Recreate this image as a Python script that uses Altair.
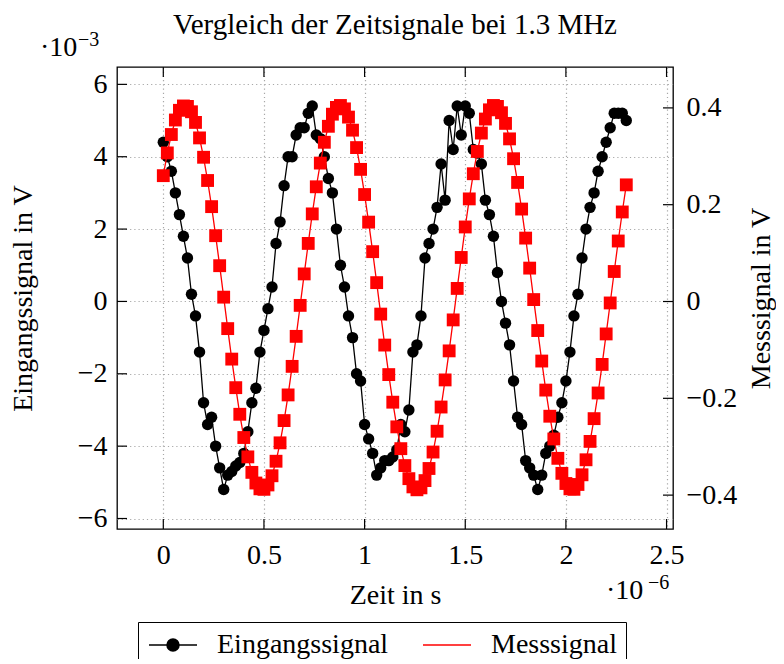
import altair as alt
import pandas as pd

# ---------------- data ----------------
time_us = [0.00, 0.02, 0.04, 0.06, 0.08, 0.10, 0.12, 0.14, 0.16, 0.18,
           0.20, 0.22, 0.24, 0.26, 0.28, 0.30, 0.32, 0.34, 0.36, 0.38,
           0.40, 0.42, 0.44, 0.46, 0.48, 0.50, 0.52, 0.54, 0.56, 0.58,
           0.60, 0.62, 0.64, 0.66, 0.68, 0.70, 0.72, 0.74, 0.76, 0.78,
           0.80, 0.82, 0.84, 0.86, 0.88, 0.90, 0.92, 0.94, 0.96, 0.98,
           1.00, 1.02, 1.04, 1.06, 1.08, 1.10, 1.12, 1.14, 1.16, 1.18,
           1.20, 1.22, 1.24, 1.26, 1.28, 1.30, 1.32, 1.34, 1.36, 1.38,
           1.40, 1.42, 1.44, 1.46, 1.48, 1.50, 1.52, 1.54, 1.56, 1.58,
           1.60, 1.62, 1.64, 1.66, 1.68, 1.70, 1.72, 1.74, 1.76, 1.78,
           1.80, 1.82, 1.84, 1.86, 1.88, 1.90, 1.92, 1.94, 1.96, 1.98,
           2.00, 2.02, 2.04, 2.06, 2.08, 2.10, 2.12, 2.14, 2.16, 2.18,
           2.20, 2.22, 2.24, 2.26, 2.28, 2.30]

eingang_mV = [4.4, 4.0, 3.6, 3.0, 2.4, 1.8, 1.2, 0.2, -0.4, -1.4,
              -2.8, -3.4, -3.2, -4.0, -4.6, -5.2, -4.8, -4.7, -4.55, -4.45,
              -4.2, -3.6, -2.8, -2.4, -1.4, -0.8, -0.2, 0.4, 1.6, 2.2,
              3.2, 4.0, 4.0, 4.6, 4.8, 4.8, 5.2, 5.4, 4.6, 4.5,
              4.0, 3.4, 3.0, 2.0, 1.0, 0.4, -0.4, -1.0, -2.0, -2.2,
              -3.4, -3.8, -4.2, -4.8, -4.6, -4.4, -4.4, -4.3, -4.1, -3.4,
              -3.6, -3.0, -1.4, -1.2, -0.4, 1.2, 1.6, 2.0, 2.6, 3.8,
              2.8, 5.0, 4.2, 5.4, 4.6, 5.4, 5.2, 4.2, 4.1, 3.8,
              2.8, 2.4, 1.8, 0.8, 0.0, -0.6, -1.2, -2.2, -3.2, -3.4,
              -4.4, -4.6, -4.8, -5.2, -4.8, -4.2, -4.0, -3.7, -3.2, -2.8,
              -2.2, -1.4, -0.4, 0.2, 1.2, 2.0, 2.6, 3.0, 3.6, 4.0,
              4.4, 4.8, 5.2, 5.2, 5.2, 5.0]

mess_V = [0.260, 0.307, 0.345, 0.375, 0.395, 0.404, 0.403, 0.392, 0.370, 0.338,
          0.298, 0.250, 0.196, 0.136, 0.074, 0.009, -0.056, -0.119, -0.178, -0.233,
          -0.281, -0.321, -0.353, -0.375, -0.387, -0.388, -0.379, -0.360, -0.330, -0.292,
          -0.246, -0.193, -0.134, -0.072, -0.008, 0.057, 0.120, 0.181, 0.237, 0.286,
          0.329, 0.362, 0.387, 0.401, 0.405, 0.398, 0.381, 0.354, 0.318, 0.273,
          0.221, 0.164, 0.103, 0.039, -0.026, -0.090, -0.151, -0.208, -0.259, -0.304,
          -0.339, -0.366, -0.383, -0.389, -0.385, -0.370, -0.345, -0.311, -0.268, -0.218,
          -0.162, -0.102, -0.038, 0.027, 0.091, 0.154, 0.212, 0.264, 0.310, 0.348,
          0.377, 0.396, 0.405, 0.403, 0.390, 0.368, 0.336, 0.295, 0.246, 0.191,
          0.131, 0.069, 0.004, -0.060, -0.123, -0.183, -0.237, -0.284, -0.324, -0.355,
          -0.376, -0.387, -0.388, -0.378, -0.358, -0.327, -0.289, -0.242, -0.189, -0.130,
          -0.067, -0.003, 0.062, 0.125, 0.185, 0.241]

x_tick_values = [0, 0.5, 1, 1.5, 2, 2.5]
left_tick_values = [-6, -4, -2, 0, 2, 4, 6]
right_tick_values = [-0.4, -0.2, 0, 0.2, 0.4]
series_names = ["Eingangssignal", "Messsignal"]
series_colors = ["#000000", "#ff0000"]
title_text = "Vergleich der Zeitsignale bei 1.3 MHz"

# ---------------- styling ----------------
FONT = "Liberation Serif"
FS = 28
W, H = 556, 462

df_in = pd.DataFrame({"t": time_us, "v": eingang_mV})
df_out = pd.DataFrame({"t": time_us, "v": mess_V})
df_xt = pd.DataFrame({"t": x_tick_values})
df_lt = pd.DataFrame({"v": left_tick_values})
df_rt = pd.DataFrame({"v": right_tick_values})
df_leg = pd.DataFrame({"series": series_names})
one = pd.DataFrame({"a": [0]})

x_scale = alt.Scale(domain=[-0.23, 2.532], nice=False, zero=False)
yl_scale = alt.Scale(domain=[-6.29, 6.48], nice=False, zero=False)
yr_scale = alt.Scale(domain=[-0.47, 0.4845], nice=False, zero=False)

grid_kw = dict(grid=True, gridColor="#a8a8a8", gridDash=[1.2, 3], gridWidth=1.2)
lab_kw = dict(labelFont=FONT, labelFontSize=FS, labelColor="black",
              titleFont=FONT, titleFontSize=FS, titleFontWeight="normal",
              titleColor="black", domain=False, ticks=False)

x_axis = alt.Axis(values=x_tick_values, format=".1~f", labelFlush=False,
                  labelPadding=12, title="Zeit in s", titleX=W / 2, titleY=74,
                  titleBaseline="alphabetic", titleAlign="center",
                  **grid_kw, **lab_kw)
yl_axis = alt.Axis(orient="left", values=left_tick_values, format="d",
                   labelPadding=10, title="Eingangssignal in V",
                   titleX=-86, titleY=H / 2, titleAngle=270,
                   titleBaseline="alphabetic", titleAlign="center",
                   **grid_kw, **lab_kw)
yr_axis = alt.Axis(orient="right", values=right_tick_values, format=".1~f",
                   labelPadding=13, grid=False, title="Messsignal in V",
                   titleX=96, titleY=H / 2, titleAngle=270,
                   titleBaseline="alphabetic", titleAlign="center", **lab_kw)

x_enc = alt.X("t:Q", scale=x_scale, axis=x_axis)
yl_enc = alt.Y("v:Q", scale=yl_scale, axis=yl_axis)
yr_enc = alt.Y("v:Q", scale=yr_scale, axis=yr_axis)

black_line = alt.Chart(df_in).mark_line(color="black", strokeWidth=1.3).encode(
    x=x_enc, y=yl_enc)
black_pts = alt.Chart(df_in).mark_point(filled=True, shape="circle", size=130,
                                        color="black", opacity=1).encode(
    x=x_enc, y=yl_enc)

red_line = alt.Chart(df_out).mark_line(color="#ff0000", strokeWidth=1.3).encode(
    x=x_enc, y=yr_enc)
red_pts = alt.Chart(df_out).mark_point(filled=True, shape="square", size=165,
                                       color="#ff0000", opacity=1).encode(
    x=x_enc, y=yr_enc)

# inward ticks (pgfplots style)
TL = 10
tick_kw = dict(color="black", strokeWidth=1.2)
xt_bottom = alt.Chart(df_xt).mark_rule(**tick_kw).encode(
    x=x_enc, y=alt.value(H), y2=alt.value(H - TL))
xt_top = alt.Chart(df_xt).mark_rule(**tick_kw).encode(
    x=x_enc, y=alt.value(0), y2=alt.value(TL))
yl_ticks = alt.Chart(df_lt).mark_rule(**tick_kw).encode(
    y=yl_enc, x=alt.value(0), x2=alt.value(TL))
yr_ticks = alt.Chart(df_rt).mark_rule(**tick_kw).encode(
    y=yr_enc, x=alt.value(W - TL), x2=alt.value(W))

# legend
path_in = "M-2,0H2M-0.5,0A0.5,0.5,0,1,1,0.5,0A0.5,0.5,0,1,1,-0.5,0Z"
path_out = "M-2,0H2"
leg = alt.Legend(orient="none", legendX=21, legendY=555, direction="horizontal",
                 title=None, labelFont=FONT, labelFontSize=FS, labelColor="black",
                 labelLimit=400,
                 symbolSize=576, symbolStrokeWidth=1.5, symbolOpacity=1,
                 symbolOffset=12, labelOffset=30, columnPadding=31, padding=9,
                 strokeColor="black", fillColor="white")
legend_layer = alt.Chart(df_leg).mark_point(filled=True, opacity=0).encode(
    fill=alt.Fill("series:N", scale=alt.Scale(domain=series_names, range=series_colors), legend=leg),
    stroke=alt.Stroke("series:N", scale=alt.Scale(domain=series_names, range=series_colors), legend=leg),
    shape=alt.Shape("series:N", scale=alt.Scale(domain=series_names, range=[path_in, path_out]), legend=leg),
)


def txt(s, x, y, size, align="left"):
    return alt.Chart(one).mark_text(text=s, font=FONT, fontSize=size, align=align,
                                    baseline="alphabetic", color="black").encode(
        x=alt.value(x), y=alt.value(y))


ann = [txt(title_text, W / 2, -33, 29, "center"),
       txt("·10", -77, -11, FS), txt("−3", -39, -21, 20),
       txt("·10", 489, 532, FS), txt("−6", 531, 522, 20)]

left = alt.layer(black_line, black_pts, xt_bottom, xt_top, yl_ticks, legend_layer)
right = alt.layer(red_line, red_pts, yr_ticks)

chart = alt.layer(left, right, *ann).resolve_scale(y="independent").properties(
    width=W, height=H,
    padding={"left": 109, "top": 59, "right": 103, "bottom": 130},
    autosize=alt.AutoSizeParams(type="none"),
).configure_view(stroke="black", strokeWidth=1.3)

chart.save("out.html", embed_options={"renderer": "svg", "actions": False})
